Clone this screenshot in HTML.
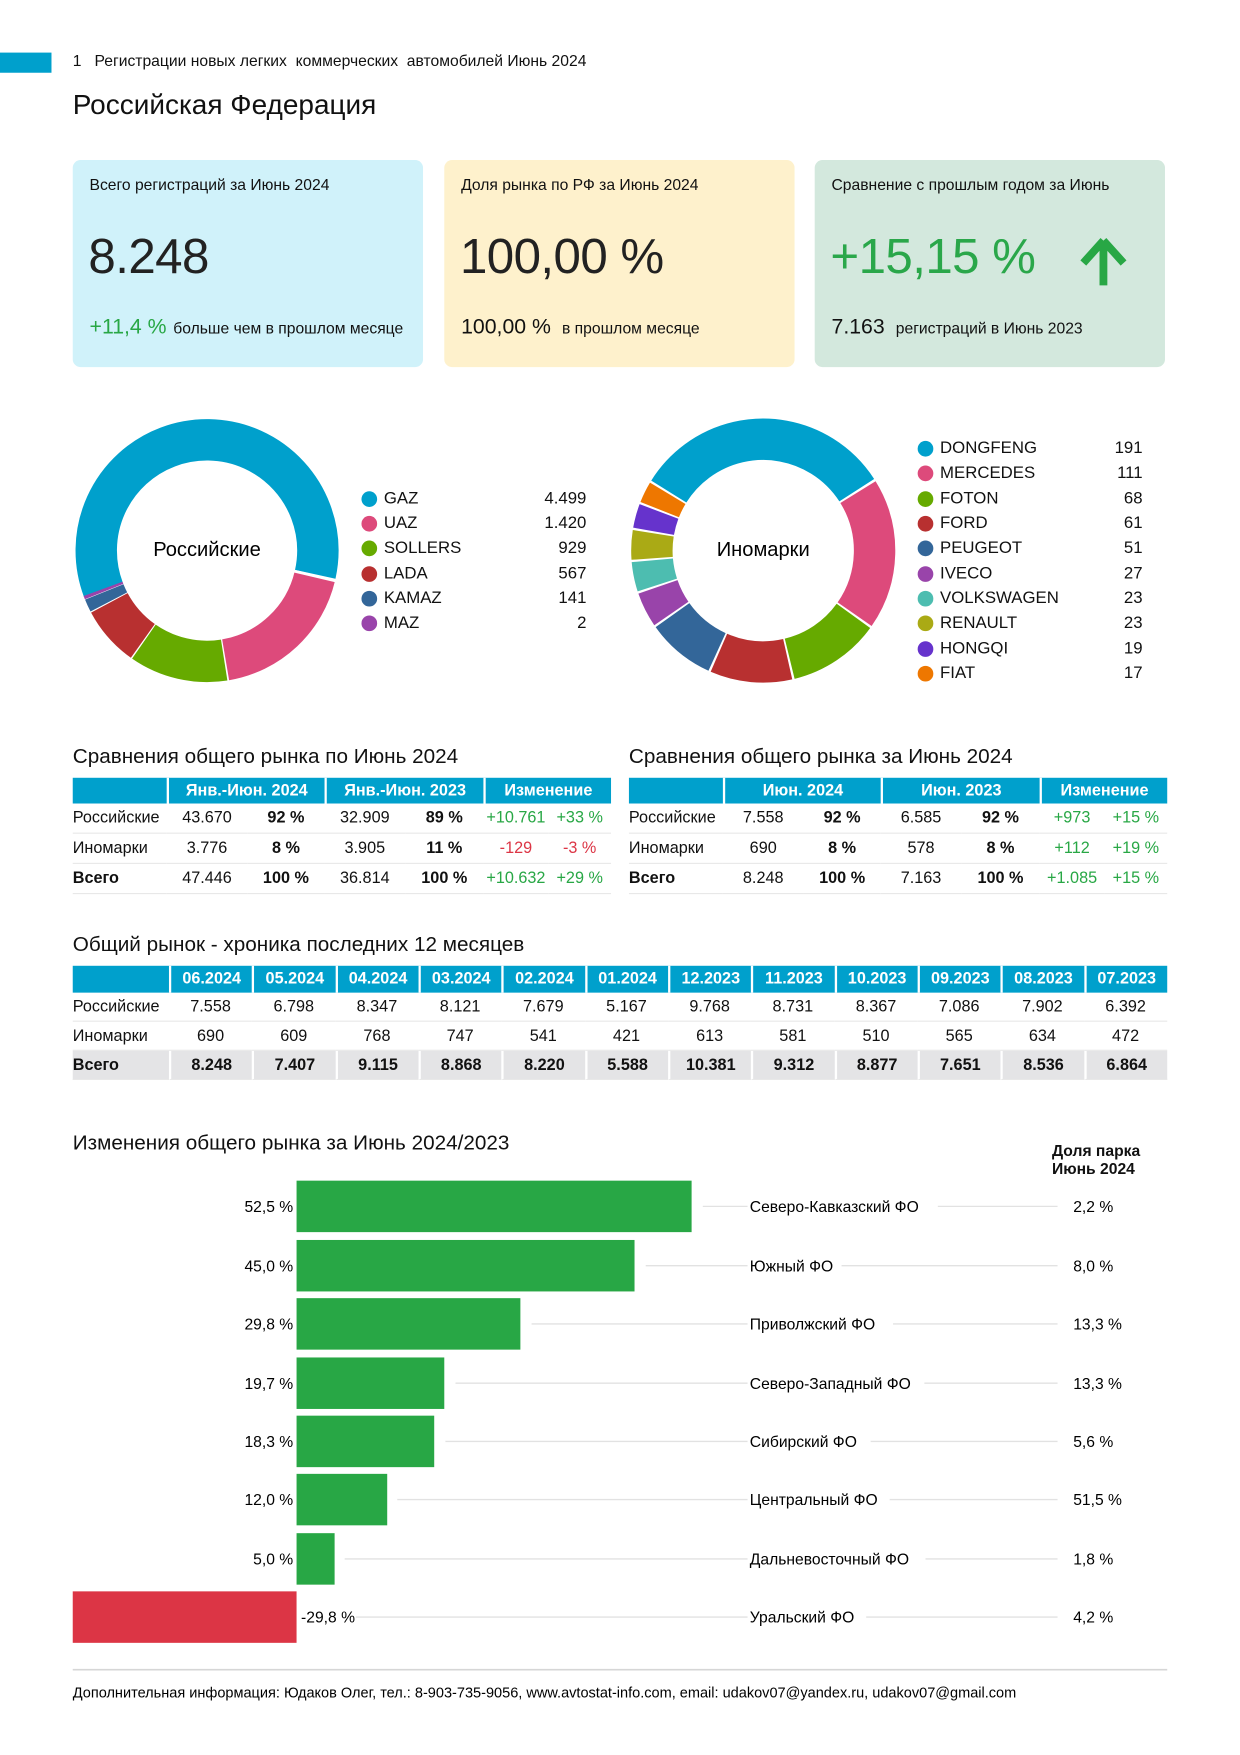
<!DOCTYPE html>
<html><head><meta charset="utf-8">
<style>
*{margin:0;padding:0;box-sizing:border-box}
html,body{width:1240px;height:1755px;overflow:hidden;background:#fff}
#w{position:absolute;left:0;top:0;width:1108px;height:1568px;transform:scale(1.1191);transform-origin:0 0;font-family:"Liberation Sans","DejaVu Sans",sans-serif;color:#111}
.a{position:absolute;white-space:nowrap}
.card{position:absolute;top:143px;height:185px;width:313px;border-radius:7px}
.ct{left:15px;top:14px;font-size:14px}
.big{left:14px;top:62px;font-size:44px;font-weight:300;letter-spacing:-0.5px;color:#222}
.bot{left:15px;top:139px;font-size:14px}
.bot b{font-size:19px;font-weight:400;margin-right:6px}
.g{color:#28a745}.r{color:#dc3545}
.big.g{color:#2aa74a}
table{position:absolute;border-collapse:separate;border-spacing:0;font-size:14.5px}
th{background:#00a0cc;color:#fff;font-weight:700;height:23px;border-left:2px solid #fff;text-align:center;font-size:14.5px}
th:first-child{border-left:none}
td{height:26px;border-bottom:1px solid #e8e8e8;text-align:center}
.t2 td{height:27px}
td:first-child{text-align:left}
.bd{font-weight:700}
tr.tot td{background:#e4e4e6;border-left:2px solid #fff;font-weight:700}
tr.tot td:first-child{border-left:none}
.h2{font-size:18.5px}
.leg{font-size:15px}
.dot{position:absolute;width:14px;height:14px;border-radius:50%}
</style></head><body><div id="w">
<div class="a" style="left:0;top:47px;width:46px;height:18px;background:#00a0cc"></div>
<div class="a" style="left:65px;top:46px;font-size:14px">1&nbsp;&nbsp; Регистрации новых легких&nbsp; коммерческих&nbsp; автомобилей Июнь 2024</div>
<div class="a" style="left:65px;top:80px;font-size:25px">Российская Федерация</div>

<div class="card" style="left:65px;background:#d0f2fa">
<div class="a ct">Всего регистраций за Июнь 2024</div>
<div class="a big">8.248</div>
<div class="a bot"><b class="g">+11,4 %</b>больше чем в прошлом месяце</div></div>
<div class="card" style="left:397px;background:#fef1cc">
<div class="a ct">Доля рынка по РФ за Июнь 2024</div>
<div class="a big">100,00 %</div>
<div class="a bot"><b>100,00 %</b> в прошлом месяце</div></div>
<div class="card" style="left:728px;background:#d3e8dd">
<div class="a ct">Сравнение с прошлым годом за Июнь</div>
<div class="a big g">+15,15 %</div>
<svg class="a" style="left:236px;top:68px" width="44" height="46"><path d="M22 4 L40 24 M22 4 L4 24 M22 4 L22 44" stroke="#28a745" stroke-width="7" fill="none" stroke-linecap="butt"/></svg>
<div class="a bot"><b>7.163</b> регистраций в Июнь 2023</div></div>

<svg class="a" style="left:0;top:0" width="1108" height="660">
<g fill="none" stroke-width="37">
<circle cx="185" cy="492" r="99" pathLength="360" stroke="#00a0cc" stroke-dasharray="213.3 400" transform="rotate(159.3 185 492)"/>
<circle cx="185" cy="492" r="99" pathLength="360" stroke="#dd4a7b" stroke-dasharray="67.1 400" transform="rotate(13.3 185 492)"/>
<circle cx="185" cy="492" r="99" pathLength="360" stroke="#66aa00" stroke-dasharray="43.7 400" transform="rotate(81.1 185 492)"/>
<circle cx="185" cy="492" r="99" pathLength="360" stroke="#b83030" stroke-dasharray="26.5 400" transform="rotate(125.4 185 492)"/>
<circle cx="185" cy="492" r="99" pathLength="360" stroke="#336699" stroke-dasharray="5.7 400" transform="rotate(152.4 185 492)"/>
<circle cx="185" cy="492" r="99" pathLength="360" stroke="#9944aa" stroke-dasharray="1.5 400" transform="rotate(158.3 185 492)"/>
</g>
<g stroke="#fff" stroke-width="2.5">
<line x1="185" y1="492" x2="308" y2="521"/>
</g>
<g fill="none" stroke-width="37">
<circle cx="682" cy="492" r="99.5" pathLength="360" stroke="#00a0cc" stroke-dasharray="115.3 400" transform="rotate(212 682 492)"/>
<circle cx="682" cy="492" r="99.5" pathLength="360" stroke="#dd4a7b" stroke-dasharray="66.6 400" transform="rotate(328.3 682 492)"/>
<circle cx="682" cy="492" r="99.5" pathLength="360" stroke="#66aa00" stroke-dasharray="40.4 400" transform="rotate(35.9 682 492)"/>
<circle cx="682" cy="492" r="99.5" pathLength="360" stroke="#b83030" stroke-dasharray="36.2 400" transform="rotate(77.3 682 492)"/>
<circle cx="682" cy="492" r="99.5" pathLength="360" stroke="#336699" stroke-dasharray="30.1 400" transform="rotate(114.5 682 492)"/>
<circle cx="682" cy="492" r="99.5" pathLength="360" stroke="#9944aa" stroke-dasharray="15.4 400" transform="rotate(145.6 682 492)"/>
<circle cx="682" cy="492" r="99.5" pathLength="360" stroke="#4dbdb0" stroke-dasharray="13 400" transform="rotate(162 682 492)"/>
<circle cx="682" cy="492" r="99.5" pathLength="360" stroke="#aaaa15" stroke-dasharray="13 400" transform="rotate(176 682 492)"/>
<circle cx="682" cy="492" r="99.5" pathLength="360" stroke="#6633cc" stroke-dasharray="10.6 400" transform="rotate(190 682 492)"/>
<circle cx="682" cy="492" r="99.5" pathLength="360" stroke="#ee7700" stroke-dasharray="9.4 400" transform="rotate(201.6 682 492)"/>
</g>
<text x="185" y="497" font-size="18" text-anchor="middle" font-family="Liberation Sans, sans-serif">Российские</text>
<text x="682" y="497" font-size="18" text-anchor="middle" font-family="Liberation Sans, sans-serif">Иномарки</text>
</svg>

<div class="leg">
<div class="dot" style="left:323px;top:439px;background:#00a0cc"></div><div class="a" style="left:343px;top:437px">GAZ</div><div class="a" style="right:584px;top:437px">4.499</div>
<div class="dot" style="left:323px;top:461px;background:#dd4a7b"></div><div class="a" style="left:343px;top:459px">UAZ</div><div class="a" style="right:584px;top:459px">1.420</div>
<div class="dot" style="left:323px;top:483px;background:#66aa00"></div><div class="a" style="left:343px;top:481px">SOLLERS</div><div class="a" style="right:584px;top:481px">929</div>
<div class="dot" style="left:323px;top:506px;background:#b83030"></div><div class="a" style="left:343px;top:504px">LADA</div><div class="a" style="right:584px;top:504px">567</div>
<div class="dot" style="left:323px;top:528px;background:#336699"></div><div class="a" style="left:343px;top:526px">KAMAZ</div><div class="a" style="right:584px;top:526px">141</div>
<div class="dot" style="left:323px;top:550px;background:#9944aa"></div><div class="a" style="left:343px;top:548px">MAZ</div><div class="a" style="right:584px;top:548px">2</div>

<div class="dot" style="left:820px;top:394px;background:#00a0cc"></div><div class="a" style="left:840px;top:392px">DONGFENG</div><div class="a" style="right:87px;top:392px">191</div>
<div class="dot" style="left:820px;top:416px;background:#dd4a7b"></div><div class="a" style="left:840px;top:414px">MERCEDES</div><div class="a" style="right:87px;top:414px">111</div>
<div class="dot" style="left:820px;top:439px;background:#66aa00"></div><div class="a" style="left:840px;top:437px">FOTON</div><div class="a" style="right:87px;top:437px">68</div>
<div class="dot" style="left:820px;top:461px;background:#b83030"></div><div class="a" style="left:840px;top:459px">FORD</div><div class="a" style="right:87px;top:459px">61</div>
<div class="dot" style="left:820px;top:483px;background:#336699"></div><div class="a" style="left:840px;top:481px">PEUGEOT</div><div class="a" style="right:87px;top:481px">51</div>
<div class="dot" style="left:820px;top:506px;background:#9944aa"></div><div class="a" style="left:840px;top:504px">IVECO</div><div class="a" style="right:87px;top:504px">27</div>
<div class="dot" style="left:820px;top:528px;background:#4dbdb0"></div><div class="a" style="left:840px;top:526px">VOLKSWAGEN</div><div class="a" style="right:87px;top:526px">23</div>
<div class="dot" style="left:820px;top:550px;background:#aaaa15"></div><div class="a" style="left:840px;top:548px">RENAULT</div><div class="a" style="right:87px;top:548px">23</div>
<div class="dot" style="left:820px;top:573px;background:#6633cc"></div><div class="a" style="left:840px;top:571px">HONGQI</div><div class="a" style="right:87px;top:571px">19</div>
<div class="dot" style="left:820px;top:595px;background:#ee7700"></div><div class="a" style="left:840px;top:593px">FIAT</div><div class="a" style="right:87px;top:593px">17</div>
</div>

<div class="a h2" style="left:65px;top:665px">Сравнения общего рынка по Июнь 2024</div>
<table class="t2" style="left:65px;top:695px;width:481px">
<colgroup><col style="width:84px"><col style="width:72px"><col style="width:69px"><col style="width:72px"><col style="width:70px"><col style="width:58px"><col style="width:56px"></colgroup>
<tr><th></th><th colspan="2">Янв.-Июн. 2024</th><th colspan="2">Янв.-Июн. 2023</th><th colspan="2">Изменение</th></tr>
<tr><td>Российские</td><td>43.670</td><td class="bd">92 %</td><td>32.909</td><td class="bd">89 %</td><td class="g">+10.761</td><td class="g">+33 %</td></tr>
<tr><td>Иномарки</td><td>3.776</td><td class="bd">8 %</td><td>3.905</td><td class="bd">11 %</td><td class="r">-129</td><td class="r">-3 %</td></tr>
<tr><td class="bd">Всего</td><td>47.446</td><td class="bd">100 %</td><td>36.814</td><td class="bd">100 %</td><td class="g">+10.632</td><td class="g">+29 %</td></tr>
</table>

<div class="a h2" style="left:562px;top:665px">Сравнения общего рынка за Июнь 2024</div>
<table class="t2" style="left:562px;top:695px;width:481px">
<colgroup><col style="width:84px"><col style="width:72px"><col style="width:69px"><col style="width:72px"><col style="width:70px"><col style="width:58px"><col style="width:56px"></colgroup>
<tr><th></th><th colspan="2">Июн. 2024</th><th colspan="2">Июн. 2023</th><th colspan="2">Изменение</th></tr>
<tr><td>Российские</td><td>7.558</td><td class="bd">92 %</td><td>6.585</td><td class="bd">92 %</td><td class="g">+973</td><td class="g">+15 %</td></tr>
<tr><td>Иномарки</td><td>690</td><td class="bd">8 %</td><td>578</td><td class="bd">8 %</td><td class="g">+112</td><td class="g">+19 %</td></tr>
<tr><td class="bd">Всего</td><td>8.248</td><td class="bd">100 %</td><td>7.163</td><td class="bd">100 %</td><td class="g">+1.085</td><td class="g">+15 %</td></tr>
</table>

<div class="a h2" style="left:65px;top:833px">Общий рынок - хроника последних 12 месяцев</div>
<table style="left:65px;top:863px;width:978px;table-layout:fixed">
<colgroup><col style="width:86px"><col span="12" style="width:74.33px"></colgroup>
<tr><th style="height:24px"></th><th>06.2024</th><th>05.2024</th><th>04.2024</th><th>03.2024</th><th>02.2024</th><th>01.2024</th><th>12.2023</th><th>11.2023</th><th>10.2023</th><th>09.2023</th><th>08.2023</th><th>07.2023</th></tr>
<tr><td>Российские</td><td>7.558</td><td>6.798</td><td>8.347</td><td>8.121</td><td>7.679</td><td>5.167</td><td>9.768</td><td>8.731</td><td>8.367</td><td>7.086</td><td>7.902</td><td>6.392</td></tr>
<tr><td>Иномарки</td><td>690</td><td>609</td><td>768</td><td>747</td><td>541</td><td>421</td><td>613</td><td>581</td><td>510</td><td>565</td><td>634</td><td>472</td></tr>
<tr class="tot"><td>Всего</td><td>8.248</td><td>7.407</td><td>9.115</td><td>8.868</td><td>8.220</td><td>5.588</td><td>10.381</td><td>9.312</td><td>8.877</td><td>7.651</td><td>8.536</td><td>6.864</td></tr>
</table>

<div class="a h2" style="left:65px;top:1010px">Изменения общего рынка за Июнь 2024/2023</div>
<div class="a" style="left:940px;top:1020px;font-size:14px;font-weight:700;line-height:16px">Доля парка<br>Июнь 2024</div>

<svg class="a" style="left:0;top:0" width="1108" height="1568" font-family="Liberation Sans, sans-serif" font-size="14">
<g stroke="#e2e2e2" stroke-width="1.2">
<line x1="628" y1="1078" x2="945" y2="1078"/>
<line x1="577" y1="1131" x2="945" y2="1131"/>
<line x1="475" y1="1183" x2="945" y2="1183"/>
<line x1="407" y1="1236" x2="945" y2="1236"/>
<line x1="398" y1="1288" x2="945" y2="1288"/>
<line x1="355" y1="1340" x2="945" y2="1340"/>
<line x1="308" y1="1393" x2="945" y2="1393"/>
<line x1="318" y1="1445" x2="945" y2="1445"/>
</g>
<g fill="#fff">
<rect x="668" y="1068" width="170" height="20"/><rect x="668" y="1121" width="84" height="20"/><rect x="668" y="1173" width="130" height="20"/><rect x="668" y="1226" width="158" height="20"/><rect x="668" y="1278" width="110" height="20"/><rect x="668" y="1330" width="127" height="20"/><rect x="668" y="1383" width="159" height="20"/><rect x="668" y="1435" width="106" height="20"/>
</g>
<g fill="#28a745">
<rect x="265" y="1055" width="353" height="46"/>
<rect x="265" y="1108" width="302" height="46"/>
<rect x="265" y="1160" width="200" height="46"/>
<rect x="265" y="1213" width="132" height="46"/>
<rect x="265" y="1265" width="123" height="46"/>
<rect x="265" y="1317" width="81" height="46"/>
<rect x="265" y="1370" width="34" height="46"/>
</g>
<rect x="65" y="1422" width="200" height="46" fill="#dc3545"/>
<g text-anchor="end">
<text x="262" y="1083">52,5 %</text><text x="262" y="1136">45,0 %</text><text x="262" y="1188">29,8 %</text><text x="262" y="1241">19,7 %</text><text x="262" y="1293">18,3 %</text><text x="262" y="1345">12,0 %</text><text x="262" y="1398">5,0 %</text>
</g>
<text x="269" y="1450">-29,8 %</text>
<g>
<text x="670" y="1083">Северо-Кавказский ФО</text><text x="670" y="1136">Южный ФО</text><text x="670" y="1188">Приволжский ФО</text><text x="670" y="1241">Северо-Западный ФО</text><text x="670" y="1293">Сибирский ФО</text><text x="670" y="1345">Центральный ФО</text><text x="670" y="1398">Дальневосточный ФО</text><text x="670" y="1450">Уральский ФО</text>
<text x="959" y="1083">2,2 %</text><text x="959" y="1136">8,0 %</text><text x="959" y="1188">13,3 %</text><text x="959" y="1241">13,3 %</text><text x="959" y="1293">5,6 %</text><text x="959" y="1345">51,5 %</text><text x="959" y="1398">1,8 %</text><text x="959" y="1450">4,2 %</text>
</g>
<line x1="65" y1="1492" x2="1043" y2="1492" stroke="#d6d6d6" stroke-width="1.5"/>
<text x="65" y="1517" font-size="13">Дополнительная информация: Юдаков Олег, тел.: 8-903-735-9056, www.avtostat-info.com, email: udakov07@yandex.ru, udakov07@gmail.com</text>
</svg>
</div></body></html>
